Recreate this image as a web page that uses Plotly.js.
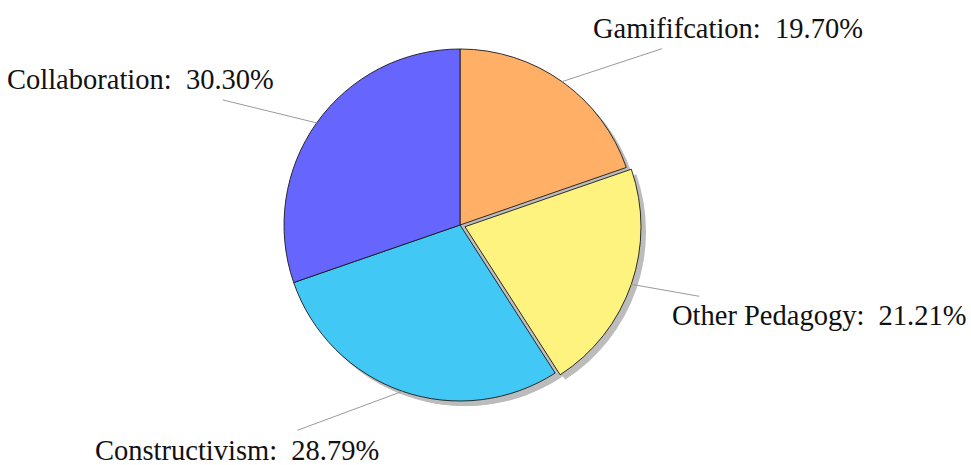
<!DOCTYPE html>
<html><head><meta charset="utf-8">
<script src="https://cdn.plot.ly/plotly-3.0.1.min.js"></script>
<style>html,body{margin:0;padding:0;background:#fff}</style>
</head><body><div id="chart" style="width:971px;height:465px"></div>
<script>
// ---- data ----
const categories = ['Gamififcation', 'Other Pedagogy', 'Constructivism', 'Collaboration'];
const percentValues = [19.70, 21.21, 28.79, 30.30];
const sliceColors = ['#FFB066', '#FFF380', '#42C8F4', '#6666FF'];
const pulls = [0, 0.03, 0, 0];
// leader line end offsets (px) from slice edge, and label centre offsets (px) from line end
const leaderOffsets = [[100, -33], [68, 12], [-105, 39], [-94, -23]];
const labelOffsets = [[66, -20], [120, 19], [-60, 20], [-82, -20]];

// ---- layout geometry ----
const W = 971, H = 465;
const cx = 460, cy = 225, R = 176;
const shadowDx = 5, shadowDy = 5;
const maxPull = Math.max(...pulls);

function domainFor(dx, dy, pullFactor) {
  const half = R * (1 + pullFactor);
  return {
    x: [(cx + dx - half) / W, (cx + dx + half) / W],
    y: [1 - (cy + dy + half) / H, 1 - (cy + dy - half) / H]
  };
}
const px = x => x / W;
const py = y => 1 - y / H;

const shadowBase = {
  type: 'pie', values: percentValues, labels: categories,
  sort: false, direction: 'clockwise', rotation: 0,
  marker: {colors: categories.map(() => '#bcbcbc'), line: {width: 0}},
  textinfo: 'none', hoverinfo: 'skip', showlegend: false
};
const shadowDisc = Object.assign({}, shadowBase, {domain: domainFor(shadowDx, shadowDy, 0)});
const shadowPulled = Object.assign({}, shadowBase, {pull: pulls, domain: domainFor(shadowDx, shadowDy, maxPull)});
const main = {
  type: 'pie', values: percentValues, labels: categories,
  sort: false, direction: 'clockwise', rotation: 0,
  pull: pulls, domain: domainFor(0, 0, maxPull),
  marker: {colors: sliceColors, line: {color: '#1a1a1a', width: 0.9}},
  textinfo: 'none', hoverinfo: 'label+percent', showlegend: false
};

const total = percentValues.reduce((a, b) => a + b, 0);
const shapes = [], annotations = [];
let cum = 0;
percentValues.forEach((v, i) => {
  const theta = 2 * Math.PI * (cum + v / 2) / total;
  cum += v;
  const rr = R * (1 + pulls[i]);
  const ex = cx + rr * Math.sin(theta), ey = cy - rr * Math.cos(theta);
  const lx = ex + leaderOffsets[i][0], ly = ey + leaderOffsets[i][1];
  shapes.push({type: 'line', xref: 'paper', yref: 'paper',
    x0: px(ex), y0: py(ey), x1: px(lx), y1: py(ly),
    line: {color: '#9a9a9a', width: 1}});
  const pct = (100 * v / total).toFixed(2) + '%';
  annotations.push({xref: 'paper', yref: 'paper',
    x: px(lx + labelOffsets[i][0]), y: py(ly + labelOffsets[i][1]),
    xanchor: 'center', yanchor: 'middle', showarrow: false,
    text: categories[i] + ':  ' + pct,
    font: {family: 'Liberation Serif, DejaVu Serif, serif', size: 28.5, color: '#111'}});
});

Plotly.newPlot('chart', [shadowDisc, shadowPulled, main], {
  width: W, height: H, margin: {l: 0, r: 0, t: 0, b: 0},
  paper_bgcolor: '#ffffff', showlegend: false,
  shapes: shapes, annotations: annotations
}, {displayModeBar: false, staticPlot: true});
</script></body></html>
